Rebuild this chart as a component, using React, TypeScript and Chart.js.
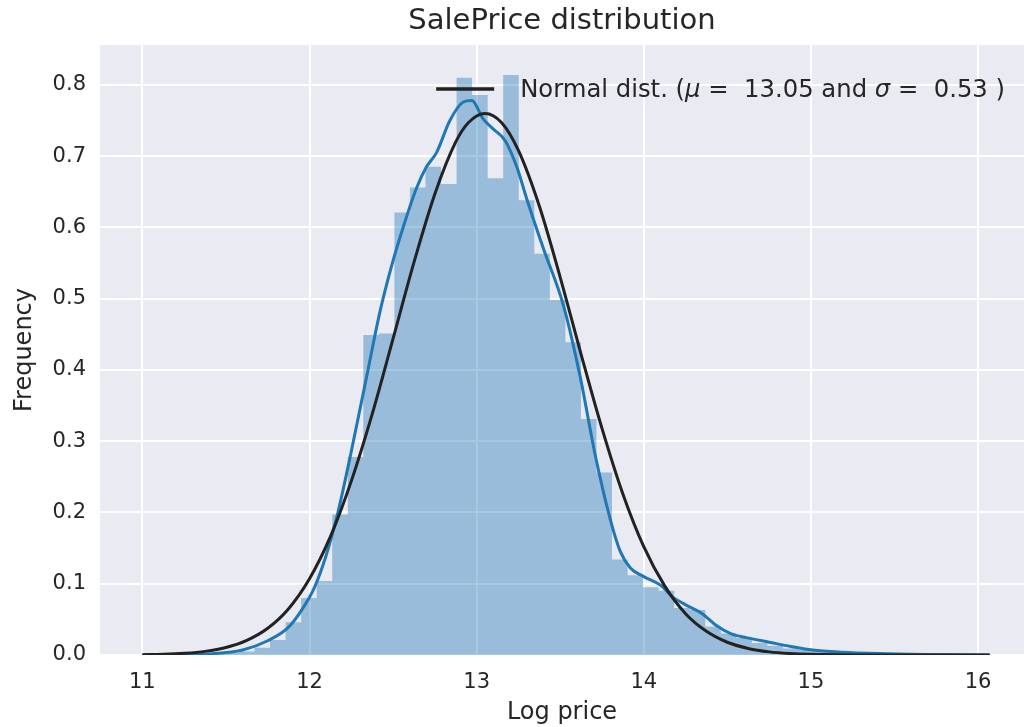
import React, { useEffect, useRef } from 'react';
import { Chart, registerables } from 'chart.js';

Chart.register(...registerables);

// ---------- text ----------
const TITLE = 'SalePrice distribution';
const X_LABEL = 'Log price';
const Y_LABEL = 'Frequency';
const LEGEND_PARTS = [
  { text: 'Normal dist. (', italic: false },
  { text: 'μ', italic: true },
  { text: ' =  13.05 and ', italic: false },
  { text: 'σ', italic: true },
  { text: ' =  0.53 )', italic: false },
];

// ---------- axes ----------
const X_MIN = 10.7465;
const X_MAX = 16.275;
const Y_MIN = 0;
const Y_MAX = 0.856;
const X_TICKS = [11, 12, 13, 14, 15, 16];
const Y_TICKS = [0, 0.1, 0.2, 0.3, 0.4, 0.5, 0.6, 0.7, 0.8];

// ---------- histogram (density per bin) ----------
const HIST_START = 11.392;
const HIST_BIN_WIDTH = 0.093;
const HIST_DENSITY = [
  0.002, 0.003, 0.005, 0.01, 0.021, 0.046, 0.08, 0.104, 0.197, 0.278,
  0.449, 0.451, 0.621, 0.656, 0.685, 0.661, 0.81, 0.786, 0.669, 0.814,
  0.638, 0.563, 0.498, 0.439, 0.331, 0.256, 0.134, 0.112, 0.095, 0.09,
  0.066, 0.063, 0.04, 0.03, 0.024, 0.017, 0.013, 0.009, 0.007, 0.005,
  0.004, 0.003, 0.002, 0.002, 0.001, 0.002,
];

// ---------- KDE curve ----------
const KDE_X = [
  11.0, 11.2, 11.4, 11.6, 11.75, 11.87, 11.95, 12.03, 12.1, 12.17,
  12.245, 12.35, 12.42, 12.49, 12.56, 12.64, 12.7, 12.76, 12.84, 12.92,
  12.97, 13.04, 13.1, 13.17, 13.24, 13.3, 13.4, 13.52, 13.62, 13.71,
  13.8, 13.86, 13.92, 14.0, 14.1, 14.17, 14.27, 14.35, 14.43, 14.52,
  14.62, 14.75, 14.88, 15.01, 15.18, 15.41, 15.7, 16.07,
];
const KDE_Y = [
  0.0, 0.0005, 0.0015, 0.007, 0.02, 0.038, 0.062, 0.095, 0.14, 0.2,
  0.28, 0.4, 0.48, 0.545, 0.6, 0.655, 0.685, 0.705, 0.75, 0.776,
  0.778, 0.752, 0.738, 0.722, 0.685, 0.64, 0.57, 0.49, 0.39, 0.28,
  0.19, 0.145, 0.122, 0.11, 0.098, 0.082, 0.068, 0.058, 0.042, 0.03,
  0.024, 0.018, 0.012, 0.007, 0.004, 0.002, 0.0008, 0.0,
];

// ---------- fitted normal curve ----------
const NORM_X = [
  11.0, 11.125, 11.25, 11.375, 11.5, 11.625, 11.75, 11.875, 12.0, 12.125,
  12.25, 12.375, 12.5, 12.625, 12.75, 12.875, 12.95, 13.05, 13.15, 13.25,
  13.375, 13.5, 13.625, 13.75, 13.875, 14.0, 14.125, 14.25, 14.375, 14.5,
  14.625, 14.75, 14.875, 15.0, 15.25, 15.5, 16.07,
];
const NORM_Y = [
  0.0004, 0.001, 0.0024, 0.0051, 0.0105, 0.0205, 0.0375, 0.065, 0.107, 0.166,
  0.244, 0.338, 0.444, 0.551, 0.647, 0.72, 0.747, 0.76, 0.747, 0.708,
  0.63, 0.53, 0.422, 0.318, 0.226, 0.152, 0.097, 0.058, 0.0333, 0.0179,
  0.0092, 0.0044, 0.002, 0.0009, 0.0001, 0.0, 0.0,
];

// ---------- styles ----------
const FONT = '"DejaVu Sans", "Liberation Sans", sans-serif';
const TEXT_COLOR = '#262626';
const AXES_BG = '#EAEAF2';
const HIST_COLOR = 'rgba(31, 119, 180, 0.4)';
const KDE_COLOR = '#1f77b4';
const NORM_COLOR = '#222222';

const axesBackground = {
  id: 'axesBackground',
  beforeDraw(chart: any) {
    const { ctx, chartArea } = chart;
    ctx.save();
    ctx.fillStyle = AXES_BG;
    ctx.fillRect(chartArea.left, chartArea.top, chartArea.right - chartArea.left, chartArea.bottom - chartArea.top);
    ctx.restore();
  },
};

const fitLegend = {
  id: 'fitLegend',
  afterDatasetsDraw(chart: any) {
    const { ctx, chartArea } = chart;
    const size = 24.3;
    const normal = `${size}px ${FONT}`;
    const italic = `italic ${size}px ${FONT}`;
    ctx.save();
    let total = 0;
    const widths = LEGEND_PARTS.map((p) => {
      ctx.font = p.italic ? italic : normal;
      const w = ctx.measureText(p.text).width;
      total += w;
      return w;
    });
    const right = chartArea.right - 19;
    const cy = chartArea.top + 46;
    let x = right - total;
    ctx.strokeStyle = NORM_COLOR;
    ctx.lineWidth = 3.5;
    ctx.beginPath();
    ctx.moveTo(x - 84, cy - 2);
    ctx.lineTo(x - 26, cy - 2);
    ctx.stroke();
    ctx.fillStyle = TEXT_COLOR;
    ctx.textBaseline = 'middle';
    ctx.textAlign = 'left';
    LEGEND_PARTS.forEach((p, i) => {
      ctx.font = p.italic ? italic : normal;
      ctx.fillText(p.text, x, cy);
      x += widths[i];
    });
    ctx.restore();
  },
};

export default function App() {
  const canvasRef = useRef<HTMLCanvasElement | null>(null);

  useEffect(() => {
    if (!canvasRef.current) return;
    // histogram outline: one point per bin edge, stepped so each bin keeps its own height
    const histData = [...HIST_DENSITY, HIST_DENSITY[HIST_DENSITY.length - 1]].map((v, i) => ({
      x: HIST_START + i * HIST_BIN_WIDTH,
      y: v,
    }));
    const kdeData = KDE_X.map((x, i) => ({ x, y: KDE_Y[i] }));
    const normData = NORM_X.map((x, i) => ({ x, y: NORM_Y[i] }));

    const chart = new Chart(canvasRef.current, {
      type: 'line',
      data: {
        datasets: [
          {
            label: 'Normal dist.',
            data: normData,
            borderColor: NORM_COLOR,
            borderWidth: 3,
            pointRadius: 0,
            fill: false,
            cubicInterpolationMode: 'monotone',
            order: 0,
          },
          {
            label: 'KDE',
            data: kdeData,
            borderColor: KDE_COLOR,
            borderWidth: 3,
            pointRadius: 0,
            fill: false,
            cubicInterpolationMode: 'monotone',
            order: 1,
          },
          {
            label: 'Histogram',
            data: histData,
            stepped: 'before',
            borderWidth: 0,
            borderColor: 'rgba(0,0,0,0)',
            backgroundColor: HIST_COLOR,
            pointRadius: 0,
            fill: 'origin',
            order: 2,
          } as any,
        ],
      },
      options: {
        animation: false,
        responsive: true,
        maintainAspectRatio: false,
        layout: { padding: 0 },
        plugins: {
          legend: { display: false },
          tooltip: { enabled: false },
          title: {
            display: true,
            text: TITLE,
            color: TEXT_COLOR,
            fullSize: false,
            font: { family: FONT, size: 29, weight: 'normal' },
            padding: { top: 3.6, bottom: 6.6 },
          },
        },
        scales: {
          x: {
            type: 'linear',
            min: X_MIN,
            max: X_MAX,
            offset: false,
            afterBuildTicks: (scale: any) => {
              scale.ticks = X_TICKS.map((v) => ({ value: v }));
            },
            afterFit: (scale: any) => {
              scale.height = 72;
            },
            ticks: {
              color: TEXT_COLOR,
              font: { family: FONT, size: 21 },
              padding: 15,
              autoSkip: false,
              maxRotation: 0,
              callback: (v: any) => String(v),
            },
            grid: { color: '#ffffff', lineWidth: 2, drawTicks: false, offset: false },
            border: { display: false },
            title: {
              display: true,
              text: X_LABEL,
              color: TEXT_COLOR,
              font: { family: FONT, size: 24 },
              padding: { top: 0, bottom: 0 },
            },
          },
          y: {
            type: 'linear',
            min: Y_MIN,
            max: Y_MAX,
            afterBuildTicks: (scale: any) => {
              scale.ticks = Y_TICKS.map((v) => ({ value: v }));
            },
            afterFit: (scale: any) => {
              scale.width = 100;
            },
            ticks: {
              color: TEXT_COLOR,
              font: { family: FONT, size: 21 },
              padding: 14,
              callback: (v: any) => Number(v).toFixed(1),
            },
            grid: { color: '#ffffff', lineWidth: 2, drawTicks: false },
            border: { display: false },
            title: {
              display: true,
              text: Y_LABEL,
              color: TEXT_COLOR,
              font: { family: FONT, size: 24 },
              padding: { top: 10, bottom: 0 },
            },
          },
        },
      },
      plugins: [axesBackground, fitLegend],
    });

    return () => chart.destroy();
  }, []);

  return (
    <div style={{ position: 'absolute', left: 0, top: 0, width: 1024, height: 727, background: '#ffffff' }}>
      <canvas ref={canvasRef} />
    </div>
  );
}
